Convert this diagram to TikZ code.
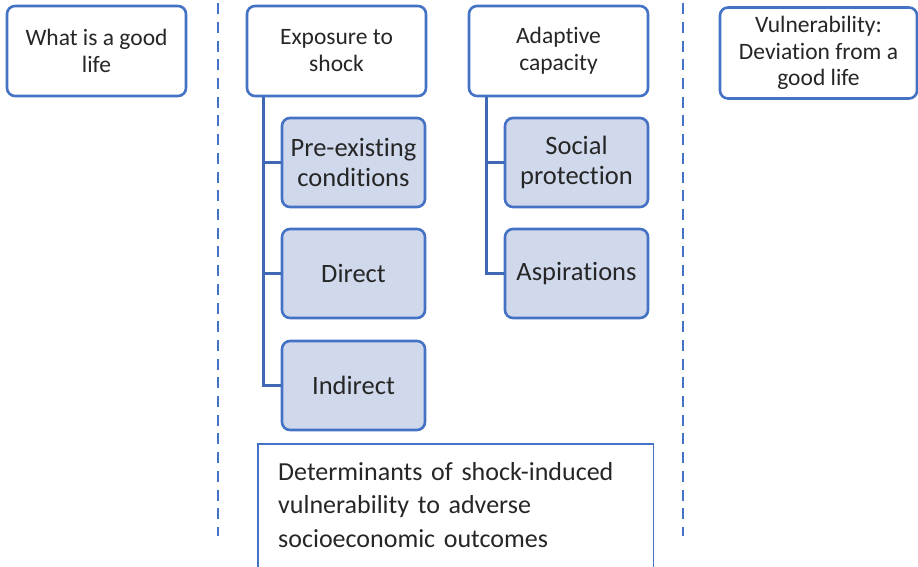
\documentclass[tikz,border=0pt]{standalone}
\usepackage{fontspec}
\setmainfont{Carlito}[Ligatures=NoCommon, RawFeature=-calt]
\definecolor{accent}{RGB}{68,114,196}
\definecolor{subfill}{RGB}{208,216,235}
\definecolor{ink}{RGB}{38,38,38}
\begin{document}
\begin{tikzpicture}[x=1pt,y=-1pt,
  topbox/.style={draw=accent, line width=2.6pt, fill=white, rounded corners=8pt,
    minimum width=179pt, minimum height=90pt, inner sep=4pt, align=center,
    text=ink, font=\fontsize{23.5}{27}\selectfont},
  subbox/.style={draw=accent, line width=2.6pt, fill=subfill, rounded corners=8pt,
    minimum width=143pt, minimum height=89pt, inner sep=4pt, align=center,
    text=ink, font=\fontsize{26.5}{29.5}\selectfont},
  tree/.style={draw=accent!92!black, line width=2.8pt},
  divider/.style={draw=accent, line width=2.4pt, dash pattern=on 11pt off 7.7pt,
    dash phase=-3.3pt}]
\useasboundingbox (0,0) rectangle (918,567);
\clip (0,0) rectangle (918,567);

% column dividers
\coordinate (d1top) at (218,0);
\coordinate (d1bot) at (218,536);
\coordinate (d2top) at (683,0);
\coordinate (d2bot) at (683,536);
\draw[divider] (d1top) -- (d1bot);
\draw[divider] (d2top) -- (d2bot);

% header boxes
\node[topbox] (good) at (96.5,51) {What is a good\\life};
\node[topbox] (exp) at (336.5,51) {Exposure to\\shock};
\node[topbox] (adap) at (558.5,51) {Adaptive\\capacity};
\node[topbox, minimum width=197pt, minimum height=91pt,
  font=\fontsize{23.5}{26.5}\selectfont] (vul) at (818.5,53)
  {Vulnerability:\\Deviation from a\\good life};

% sub-factors of exposure
\node[subbox] (pre) at (353.5,162.5) {Pre-existing\\conditions};
\node[subbox] (dir) at (353.5,273.5) {Direct};
\node[subbox] (ind) at (353.5,385.5) {Indirect};

% sub-factors of adaptive capacity
\node[subbox] (soc) at (576.5,162.5) {Social\\protection};
\node[subbox] (asp) at (576.5,273.5) {Aspirations};

% tree connectors
\draw[tree] ([xshift=18pt]exp.south west) |- (pre.west);
\draw[tree] ([xshift=18pt]exp.south west) |- (dir.west);
\draw[tree] ([xshift=18pt]exp.south west) |- (ind.west);
\draw[tree] ([xshift=19pt]adap.south west) |- (soc.west);
\draw[tree] ([xshift=19pt]adap.south west) |- (asp.west);

% caption: text block, with its frame running past the lower edge
\node[anchor=north west, inner xsep=20pt, inner ysep=18.5pt, text width=355pt,
  align=left, text=ink, font=\fontsize{26}{33.2}\selectfont] (cap) at (258,444)
  {Determinants of shock-induced\\vulnerability to adverse\\socioeconomic outcomes};
\draw[accent, line width=1.6pt] (cap.north west) rectangle ([yshift=-60pt]cap.south east);
\end{tikzpicture}
\end{document}
